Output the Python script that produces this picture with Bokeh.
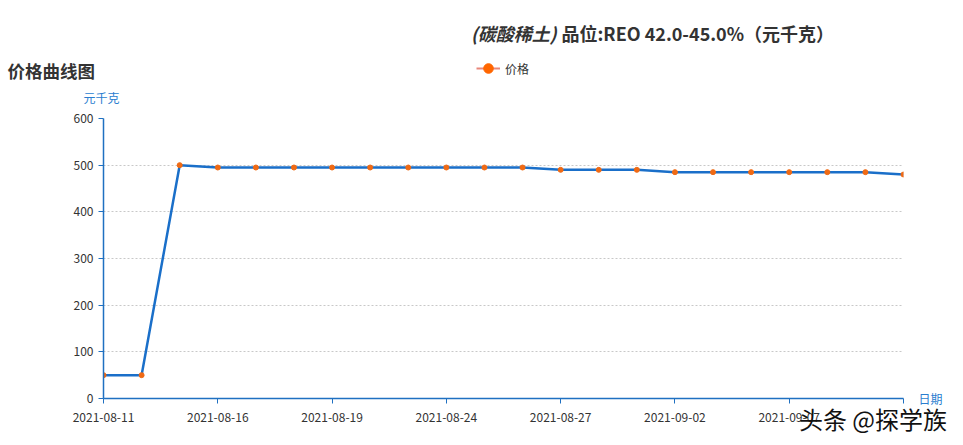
from bokeh.plotting import figure
from bokeh.layouts import column
from bokeh.models import (Range1d, FixedTicker, Label, Legend, LegendItem, ColumnDataSource,
                          LinearAxis)
from bokeh.embed import file_html
from bokeh.resources import INLINE

# ---- data ----
dates = ["2021-08-11", "2021-08-12", "2021-08-13", "2021-08-16", "2021-08-17", "2021-08-18",
         "2021-08-19", "2021-08-20", "2021-08-23", "2021-08-24", "2021-08-25", "2021-08-26",
         "2021-08-27", "2021-08-30", "2021-08-31", "2021-09-02", "2021-09-03", "2021-09-06",
         "2021-09-07", "2021-09-08", "2021-09-09", "2021-09-10"]
prices = [50, 50, 500, 495, 495, 495, 495, 495, 495, 495, 495, 495,
          490, 490, 490, 485, 485, 485, 485, 485, 485, 480]
y_ticks = [0, 100, 200, 300, 400, 500, 600]
x_tick_idx = [0, 3, 6, 9, 12, 15, 18, 21]
hidden_labels = [21]

FONT = "Noto Sans CJK SC"
AXIS_BLUE = "#1f70c1"
TEXT_BLUE = "#2a7dcf"
LINE_BLUE = "#1a6fc9"
MARK_ORANGE = "#f06a14"

W = 955
TOP_H = 108

# ---------------- header figure (titles, legend, unit) ----------------
top = figure(width=W, height=TOP_H, output_backend="svg", toolbar_location=None,
             x_range=Range1d(0, W), y_range=Range1d(TOP_H, 0),
             min_border=0, min_border_left=0, min_border_right=0,
             min_border_top=0, min_border_bottom=0)
top.axis.visible = False
top.grid.visible = False
top.outline_line_color = None
top.background_fill_color = "white"
top.border_fill_color = "white"
top.frame_align = False


def lab(fig, text, px, py, size, color="#333333", style="normal", align="left"):
    fig.add_layout(Label(x=px, y=py, text=text, text_font=FONT, text_font_size=size,
                         text_color=color, text_font_style=style, text_align=align,
                         text_baseline="middle"))


lab(top, "(碳酸稀土)", 556, 32, "18px", style="bold italic", align="right")
lab(top, "品位:REO 42.0-45.0%（元千克）", 561, 32, "18px", style="bold")
lab(top, "价格曲线图", 7, 70, "17.5px", style="bold")
lab(top, "元千克", 101, 97, "12px", color=TEXT_BLUE, align="center")

nan = float("nan")
key_src = ColumnDataSource(dict(x=[nan], y=[nan]))
lr = top.line("x", "y", source=key_src, line_color="#e8877a", line_width=2)
sr = top.scatter("x", "y", source=key_src, size=11, fill_color="#ff6600", line_color="#ff6600")
GH = 26
legend = Legend(items=[LegendItem(label="价格", renderers=[lr, sr])],
                location=(476, TOP_H - (68 + GH // 2)), orientation="horizontal",
                border_line_color=None, background_fill_alpha=0,
                label_text_font=FONT, label_text_font_size="12px", label_text_color="#333333",
                glyph_width=24, glyph_height=GH, label_standoff=5, padding=0, margin=0,
                label_height=GH)
top.add_layout(legend, "center")

# ---------------- main chart ----------------
L, R, T, B = 103, 52, 118 - TOP_H, 47
H = T + 280 + B
n = len(dates)
p = figure(width=W, height=H, output_backend="svg", toolbar_location=None,
           x_range=Range1d(0, n - 1), y_range=Range1d(0, 600),
           min_border_left=L, min_border_right=R, min_border_top=T, min_border_bottom=B)
p.outline_line_color = None
p.background_fill_color = "white"
p.border_fill_color = "white"
p.frame_align = False

src = ColumnDataSource(dict(x=list(range(n)), y=prices))
p.line("x", "y", source=src, line_color=LINE_BLUE, line_width=2.5)
p.scatter("x", "y", source=src, size=5, fill_color=MARK_ORANGE, line_color=MARK_ORANGE)

p.xgrid.visible = False
p.ygrid.grid_line_color = "#c8c8c8"
p.ygrid.grid_line_dash = "2 2"
p.ygrid.grid_line_width = 1

xa = p.xaxis[0]
xa.ticker = FixedTicker(ticks=x_tick_idx)
xa.major_label_overrides = {i: ("" if i in hidden_labels else dates[i]) for i in x_tick_idx}
xa.axis_line_color = AXIS_BLUE
xa.axis_line_width = 1.5
xa.major_tick_line_color = AXIS_BLUE
xa.major_tick_out = 5
xa.major_tick_in = 0
xa.minor_tick_line_color = None
xa.major_label_text_font = FONT
xa.major_label_text_font_size = "12px"
xa.major_label_text_color = "#333333"
xa.major_label_standoff = 9

ya = p.yaxis[0]
ya.ticker = FixedTicker(ticks=y_ticks)
ya.axis_line_color = AXIS_BLUE
ya.axis_line_width = 1.5
ya.major_tick_line_color = AXIS_BLUE
ya.major_tick_out = 5
ya.major_tick_in = 0
ya.minor_tick_line_color = None
ya.major_label_text_font = FONT
ya.major_label_text_font_size = "12px"
ya.major_label_text_color = "#333333"
ya.major_label_standoff = 5

# x-axis name "日期" as a label of a bare right-side axis at y = 0
name_axis = LinearAxis(ticker=FixedTicker(ticks=[0]), major_label_overrides={0: "日期"},
                       axis_line_color=None, major_tick_line_color=None,
                       minor_tick_line_color=None, major_label_standoff=9,
                       major_label_text_font=FONT, major_label_text_font_size="12px",
                       major_label_text_color=TEXT_BLUE)
p.add_layout(name_axis, "right")

# watermark, drawn as the single label of a bare second bottom axis
WM_POS = 20.2
wm_axis = LinearAxis(ticker=FixedTicker(ticks=[WM_POS]),
                     major_label_overrides={WM_POS: "头条 @探学族"},
                     axis_line_color=None, major_tick_line_color=None,
                     minor_tick_line_color=None, major_label_standoff=-30,
                     major_label_text_font=FONT, major_label_text_font_size="24px",
                     major_label_text_color="#111111")
if "major_label_background_fill_color" in LinearAxis.properties():
    wm_axis.major_label_background_fill_color = "white"
p.add_layout(wm_axis, "below")

layout = column(top, p, spacing=0)
open("out.html", "w").write(file_html(layout, INLINE))
